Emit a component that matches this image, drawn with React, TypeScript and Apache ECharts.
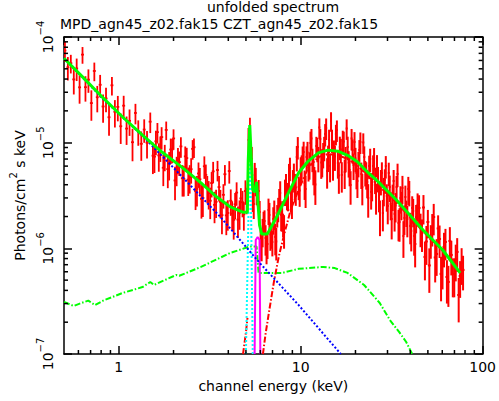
import React, { useEffect, useRef } from "react";
import * as echarts from "echarts";

// Flux values below are in units of 1e-6 photons/cm^2/s/keV
const FLUX_UNIT = 1e-6;
const X_MIN = 0.5;
const X_MAX = 100;
const Y_MIN = 1e-7;
const Y_MAX = 1e-4;

// ---- red data: MPD (low energy), two interleaved channel groups ----
const mpdEnergy = [0.506, 0.525, 0.545, 0.566, 0.587, 0.609, 0.632, 0.656, 0.681, 0.707, 0.734, 0.762, 0.79, 0.82, 0.851, 0.884, 0.917, 0.952, 0.988, 1.025, 1.064, 1.104, 1.146, 1.19, 1.235, 1.28, 1.33, 1.38, 1.43, 1.49, 1.54, 1.6, 1.66, 1.72, 1.79, 1.86, 1.93, 2.0, 2.08, 2.15, 2.24, 2.32, 2.41, 2.5, 2.59, 2.69, 2.79, 2.9, 3.01, 3.12, 3.24, 3.36, 3.49, 3.62, 3.76, 3.9, 4.05, 4.2, 4.36, 4.52, 4.69, 4.87, 5.05, 5.16, 5.26];
const mpdFlux = [74.5, 51.7, 56.5, 39.7, 50.4, 33.4, 68.1, 33.5, 39.5, 23.7, 47.7, 26.9, 35.3, 22.0, 26.2, 17.4, 34.9, 19.6, 21.8, 14.3, 22.4, 13.6, 16.1, 10.1, 19.1, 12.8, 9.76, 13.3, 9.98, 15.8, 7.53, 10.3, 7.58, 11.3, 7.45, 5.62, 8.61, 10.96, 5.61, 6.54, 4.61, 7.42, 4.47, 5.61, 9.05, 3.66, 4.5, 3.0, 4.96, 3.33, 4.15, 2.58, 5.51, 2.75, 3.21, 2.05, 5.39, 2.13, 2.61, 1.87, 2.97, 2.1, 2.92, 10.6, 13.8];
const mpdRelErr = [0.22, 0.25, 0.2, 0.28, 0.24, 0.3, 0.18, 0.27, 0.25, 0.32, 0.2, 0.28, 0.24, 0.3, 0.26, 0.33, 0.2, 0.29, 0.27, 0.32, 0.24, 0.3, 0.28, 0.34, 0.22, 0.27, 0.31, 0.25, 0.29, 0.22, 0.33, 0.26, 0.3, 0.24, 0.28, 0.34, 0.27, 0.22, 0.31, 0.26, 0.33, 0.24, 0.3, 0.27, 0.21, 0.32, 0.28, 0.34, 0.25, 0.3, 0.27, 0.33, 0.22, 0.3, 0.26, 0.35, 0.24, 0.31, 0.28, 0.33, 0.25, 0.3, 0.28, 0.3, 0.25];
const mpdBEnergy = [1.571, 1.631, 1.692, 1.757, 1.823, 1.892, 1.964, 2.038, 2.115, 2.195, 2.278, 2.364, 2.454, 2.547, 2.643, 2.743, 2.847, 2.954, 3.066, 3.182, 3.302, 3.427, 3.557, 3.691, 3.831, 3.976, 4.126, 4.282, 4.444, 4.612, 4.787, 4.968];
const mpdBFlux = [7.38, 12.58, 9.0, 5.79, 13.2, 6.27, 8.62, 4.39, 6.96, 9.22, 4.55, 7.15, 4.71, 8.74, 3.49, 5.11, 2.94, 5.98, 3.75, 2.82, 5.35, 2.76, 3.8, 2.06, 5.03, 2.16, 2.82, 1.86, 3.37, 2.17, 2.73, 3.49];
const mpdBRelErr = [0.3, 0.22, 0.27, 0.33, 0.2, 0.3, 0.26, 0.35, 0.28, 0.22, 0.32, 0.25, 0.3, 0.21, 0.34, 0.27, 0.35, 0.24, 0.29, 0.33, 0.23, 0.3, 0.27, 0.34, 0.22, 0.32, 0.28, 0.35, 0.25, 0.31, 0.28, 0.26];

// ---- red data: CZT (high energy), two interleaved channel groups ----
const cztEnergy = [5.385, 5.52, 5.66, 5.8, 5.95, 6.1, 6.25, 6.41, 6.57, 6.73, 6.9, 7.07, 7.25, 7.43, 7.62, 7.81, 8.0, 8.2, 8.41, 8.62, 8.84, 9.06, 9.28, 9.52, 9.75, 10.0, 10.25, 10.51, 10.77, 11.04, 11.32, 11.6, 11.89, 12.19, 12.5, 12.81, 13.13, 13.46, 13.8, 14.14, 14.5, 14.86, 15.23, 15.62, 16.01, 16.41, 16.82, 17.24, 17.67, 18.12, 18.57, 19.04, 19.52, 20.0, 20.5, 21.02, 21.54, 22.08, 22.64, 23.21, 23.79, 24.39, 25.0, 25.63, 26.27, 26.93, 27.6, 28.29, 29.0, 29.73, 30.48, 31.24, 32.02, 32.82, 33.65, 34.49, 35.35, 36.24, 37.15, 38.08, 39.03, 40.01, 41.01, 42.04, 43.09, 44.73, 46.42, 48.17, 49.99, 51.88, 53.84, 55.87, 57.99, 60.18, 62.46, 64.82, 67.27, 69.82, 72.46, 75.2, 78.05];
const cztFlux = [7.01, 2.63, 4.44, 3.34, 2.21, 1.077, 1.776, 1.254, 1.1, 2.07, 1.339, 1.897, 1.282, 2.07, 2.87, 2.07, 1.7, 3.49, 2.93, 4.84, 2.93, 4.44, 3.89, 7.32, 3.81, 5.64, 7.48, 4.16, 7.32, 5.64, 9.93, 7.01, 4.53, 9.31, 7.17, 10.84, 6.71, 9.01, 13.77, 7.32, 6.02, 10.61, 8.26, 12.09, 6.43, 9.11, 4.95, 10.26, 7.17, 9.11, 5.52, 10.96, 6.15, 7.09, 4.34, 8.53, 5.06, 10.04, 5.28, 4.25, 6.02, 3.42, 6.02, 4.53, 6.15, 3.13, 4.34, 2.16, 4.44, 3.13, 5.17, 2.63, 3.13, 2.12, 3.81, 1.74, 3.0, 3.73, 1.94, 2.21, 3.65, 1.63, 2.41, 1.31, 1.98, 2.41, 1.4, 0.829, 1.776, 1.227, 1.98, 0.885, 1.227, 0.681, 1.149, 0.481, 0.866, 0.573, 0.925, 0.548, 0.625];
const cztRelErr = [0.3, 0.28, 0.3, 0.25, 0.27, 0.3, 0.25, 0.32, 0.28, 0.3, 0.26, 0.29, 0.33, 0.24, 0.27, 0.3, 0.25, 0.28, 0.22, 0.3, 0.26, 0.24, 0.3, 0.27, 0.25, 0.29, 0.23, 0.31, 0.26, 0.24, 0.28, 0.25, 0.3, 0.22, 0.27, 0.24, 0.3, 0.26, 0.23, 0.28, 0.3, 0.25, 0.27, 0.22, 0.29, 0.25, 0.32, 0.24, 0.27, 0.25, 0.3, 0.23, 0.28, 0.26, 0.31, 0.24, 0.28, 0.22, 0.27, 0.3, 0.25, 0.32, 0.26, 0.28, 0.24, 0.3, 0.27, 0.33, 0.26, 0.29, 0.25, 0.3, 0.28, 0.32, 0.27, 0.33, 0.29, 0.3, 0.31, 0.28, 0.3, 0.33, 0.29, 0.35, 0.3, 0.32, 0.34, 0.4, 0.3, 0.35, 0.33, 0.38, 0.34, 0.4, 0.33, 0.42, 0.36, 0.4, 0.35, 0.38, 0.36];
const cztBEnergy = [5.452, 5.589, 5.73, 5.872, 6.024, 6.176, 6.328, 6.49, 6.652, 6.814, 6.986, 7.158, 7.34, 7.523, 7.715, 7.907, 8.1, 8.302, 8.515, 8.727, 8.95, 9.173, 9.396, 9.639, 9.871, 10.12, 10.38, 10.64, 10.9, 11.18, 11.46, 11.74, 12.04, 12.34, 12.66, 12.97, 13.29, 13.63, 13.97, 14.32, 14.68, 15.05, 15.42, 15.81, 16.21, 16.61, 17.03, 17.45, 17.89, 18.35, 18.8, 19.28, 19.76, 20.25, 20.76, 21.28, 21.81, 22.35, 22.92, 23.5, 24.09, 24.69, 25.31, 25.95, 26.6, 27.27, 27.94, 28.64, 29.36, 30.1, 30.86, 31.63, 32.42, 33.23, 34.07, 34.92, 35.79, 36.69, 37.61, 38.55, 39.52, 40.51, 41.52, 42.56, 43.9, 45.57, 47.29, 49.08, 50.93, 52.86, 54.85, 56.92, 59.08, 61.31, 63.63, 66.04, 68.55, 71.15, 73.85, 76.64];
const cztBFlux = [3.063, 4.95, 3.42, 3.49, 1.125, 1.461, 1.816, 1.054, 2.308, 1.354, 1.149, 2.162, 1.162, 2.385, 3.343, 2.115, 1.526, 3.979, 3.2, 5.763, 2.747, 4.95, 3.768, 9.11, 3.528, 5.954, 8.166, 3.647, 8.078, 6.288, 10.96, 5.64, 4.022, 8.813, 13.92, 6.494, 7.818, 12.09, 5.397, 10.61, 16.04, 6.15, 7.4, 13.19, 4.894, 8.623, 10.38, 5.28, 13.62, 6.494, 3.979, 8.53, 10.15, 5.17, 6.43, 10.15, 3.81, 7.32, 5.06, 3.0, 7.01, 3.979, 7.17, 3.063, 4.634, 2.07, 5.17, 3.568, 6.02, 2.518, 3.81, 1.897, 4.34, 2.546, 5.06, 1.776, 2.63, 1.31, 3.063, 1.897, 3.42, 1.461, 2.259, 1.1, 2.546, 1.576, 2.437, 1.162, 0.689, 1.576, 0.82, 1.543, 0.573, 1.031, 0.536, 1.175, 0.573, 0.785, 0.362, 0.727];
const cztBRelErr = [0.28, 0.3, 0.25, 0.27, 0.32, 0.3, 0.26, 0.33, 0.28, 0.3, 0.27, 0.31, 0.34, 0.26, 0.29, 0.32, 0.35, 0.27, 0.3, 0.25, 0.31, 0.28, 0.33, 0.24, 0.3, 0.27, 0.25, 0.34, 0.26, 0.29, 0.23, 0.3, 0.36, 0.26, 0.22, 0.3, 0.27, 0.24, 0.32, 0.25, 0.21, 0.29, 0.27, 0.23, 0.33, 0.26, 0.25, 0.31, 0.22, 0.28, 0.35, 0.26, 0.24, 0.3, 0.27, 0.23, 0.33, 0.26, 0.29, 0.35, 0.25, 0.3, 0.24, 0.32, 0.27, 0.37, 0.26, 0.3, 0.24, 0.33, 0.28, 0.36, 0.27, 0.31, 0.25, 0.35, 0.3, 0.38, 0.28, 0.33, 0.27, 0.36, 0.3, 0.4, 0.3, 0.35, 0.31, 0.4, 0.45, 0.34, 0.42, 0.33, 0.45, 0.36, 0.44, 0.35, 0.4, 0.38, 0.45, 0.38];

// ---- model: total (green solid) ----
const totalEnergy = [0.5, 0.64, 0.82, 1.05, 1.35, 1.72, 2.21, 2.83, 3.4, 4.1, 4.8, 5.09, 5.15, 5.25, 5.35, 5.45, 5.58, 5.72, 5.83, 5.94, 6.1, 6.56, 7.4, 8.6, 9.75, 11.0, 12.5, 14.1, 16.0, 18.1, 20.5, 23.2, 26.2, 33.6, 47.0, 60.2, 75.2];
const totalFlux = [63, 41, 26.5, 17.5, 11.8, 8.2, 5.9, 4.16, 3.13, 2.47, 2.2, 2.2, 6.9, 14.7, 6.9, 3.6, 3.4, 4.25, 2.6, 1.67, 1.37, 1.37, 2.0, 3.4, 5.2, 6.7, 8.0, 8.5, 8.3, 7.6, 6.6, 5.3, 4.4, 2.87, 1.49, 0.97, 0.585];

// ---- model: soft power law (blue dotted) ----
const powerlawEnergy = [0.5, 0.82, 1.35, 2.21, 3.62, 5.94, 9.75, 16.6];
const powerlawFlux = [63, 25.9, 11.6, 4.84, 1.98, 0.73, 0.29, 0.1];

// ---- model: reflection (green dash-dot) ----
const reflEnergy = [0.5, 0.565, 0.61, 0.68, 0.74, 0.82, 1.05, 1.35, 1.49, 1.56, 2.07, 2.15, 2.83, 4.1, 5.25, 5.72, 5.87, 7.9, 9.75, 13.3, 15.4, 18.1, 22.3, 27.2, 30.9, 34.9, 38.0, 41.0];
const reflFlux = [0.311, 0.285, 0.3, 0.32, 0.29, 0.32, 0.378, 0.43, 0.48, 0.45, 0.56, 0.55, 0.667, 0.905, 1.04, 1.04, 0.585, 0.585, 0.64, 0.667, 0.65, 0.585, 0.45, 0.304, 0.21, 0.16, 0.13, 0.1];

// ---- model: absorbed power law (red dash-dot) ----
const absEnergy = [6.2, 6.4, 6.72, 7.15, 7.61, 8.1, 8.8, 9.75, 11.0, 12.5, 14.1, 16.0, 18.1, 20.5, 23.2, 26.2, 33.6, 47.0, 60.2, 75.2];
const absFlux = [0.1, 0.152, 0.26, 0.5, 0.866, 1.34, 2.3, 3.6, 5.8, 7.3, 7.8, 7.65, 7.0, 6.1, 4.9, 4.07, 2.7, 1.45, 0.95, 0.58];
const absLowEnergy = [4.82, 5.0, 5.1];
const absLowFlux = [0.1, 0.16, 0.22];

// ---- model: Fe K alpha (cyan dotted) and Fe K beta (magenta) ----
const feKaEnergy = [5.0, 5.15, 5.25, 5.35, 5.45];
const feKaFlux = [0.1, 1.6, 14.7, 1.6, 0.1];
const feKbEnergy = [5.58, 5.66, 5.8, 5.94, 6.0];
const feKbFlux = [0.1, 1.2, 1.28, 1.2, 0.1];

// ---- ticks ----
const xMinorTicks = [0.6, 0.7, 0.8, 0.9, 2, 3, 4, 5, 6, 7, 8, 9, 20, 30, 40, 50, 60, 70, 80, 90];
const yMinorTicks = [2e-7, 3e-7, 4e-7, 5e-7, 6e-7, 7e-7, 8e-7, 9e-7, 2e-6, 3e-6, 4e-6, 5e-6, 6e-6, 7e-6, 8e-6, 9e-6, 2e-5, 3e-5, 4e-5, 5e-5, 6e-5, 7e-5, 8e-5, 9e-5];

const FONT = "DejaVu Sans";
const FS = 14;

function buildBars(E: number[], F: number[], R: number[]) {
  const n = Math.min(E.length, F.length, R.length);
  const out: number[][] = [];
  for (let i = 0; i < n; i++) {
    const f = F[i] * FLUX_UNIT;
    const lo = f * (1 - R[i]);
    const hi = f * (1 + R[i]);
    const xl = i > 0 ? Math.sqrt(E[i - 1] * E[i]) : E[i] * Math.sqrt(E[i] / E[i + 1]);
    const xr = i < n - 1 ? Math.sqrt(E[i] * E[i + 1]) : E[i] * Math.sqrt(E[i] / E[i - 1]);
    out.push([E[i], f, lo, hi, xl, xr]);
  }
  return out;
}

function pairs(E: number[], F: number[]) {
  const n = Math.min(E.length, F.length);
  const out: number[][] = [];
  for (let i = 0; i < n; i++) out.push([E[i], F[i] * FLUX_UNIT]);
  return out;
}

function isDecade(v: number) {
  const l = Math.log10(v);
  return Math.abs(l - Math.round(l)) < 1e-6;
}

export default function App() {
  const ref = useRef<HTMLDivElement>(null);
  useEffect(() => {
    const chart = echarts.init(ref.current!, null, { renderer: "svg" });
    const makeBarRender = (lw: number) => (_p: any, api: any) => {
      const x = api.value(0), f = api.value(1), lo = api.value(2), hi = api.value(3), xl = api.value(4), xr = api.value(5);
      const a = api.coord([x, lo]);
      const b = api.coord([x, hi]);
      const c = api.coord([xl, f]);
      const d = api.coord([xr, f]);
      const st = { stroke: "#ff0000", lineWidth: lw };
      return {
        type: "group",
        children: [
          { type: "line", shape: { x1: a[0], y1: a[1], x2: b[0], y2: b[1] }, style: st },
          { type: "line", shape: { x1: c[0], y1: c[1], x2: d[0], y2: d[1] }, style: st },
        ],
      };
    };
    const barSeries = (name: string, E: number[], F: number[], R: number[], lw: number) => ({
      type: "custom",
      name,
      data: buildBars(E, F, R),
      encode: { x: [0, 4, 5], y: [1, 2, 3] },
      renderItem: makeBarRender(lw),
      clip: true,
      z: 2,
      silent: true,
    });
    const axisCommon = {
      type: "log" as const,
      logBase: 10,
      axisLine: { show: true, onZero: false, lineStyle: { color: "#000", width: 1.5 } },
      axisTick: { show: true, inside: true, length: 8, lineStyle: { color: "#000", width: 1.5 } },
      splitLine: { show: false },
      minorTick: { show: false },
    };
    const labelRich = {
      b: { fontFamily: FONT, fontSize: FS, color: "#000", lineHeight: 20, verticalAlign: "bottom" as const },
      s: { fontFamily: FONT, fontSize: 10, color: "#000", lineHeight: 20, verticalAlign: "top" as const },
    };
    const option: any = {
      animation: false,
      backgroundColor: "#fff",
      grid: { left: 60, right: 12, top: 37, bottom: 47, containLabel: false },
      xAxis: [
        {
          ...axisCommon,
          position: "bottom",
          min: X_MIN,
          max: X_MAX,
          name: "channel energy (keV)",
          nameLocation: "middle",
          nameGap: 24,
          nameTextStyle: { fontFamily: FONT, fontSize: FS, color: "#000" },
          axisLabel: {
            show: true,
            margin: 6,
            fontFamily: FONT,
            fontSize: FS,
            color: "#000",
            showMinLabel: false,
            formatter: (v: number) => (isDecade(v) ? String(Math.round(v)) : ""),
          },
        },
        {
          ...axisCommon,
          position: "top",
          min: X_MIN,
          max: X_MAX,
          axisLabel: { show: false },
        },
      ],
      yAxis: [
        {
          ...axisCommon,
          position: "left",
          min: Y_MIN,
          max: Y_MAX,
          name: "{n|Photons/cm}{s|2}{n| s keV}",
          nameLocation: "middle",
          nameRotate: 90,
          nameGap: 37,
          nameTextStyle: {
            rich: {
              n: { fontFamily: FONT, fontSize: FS, color: "#000", lineHeight: 19, verticalAlign: "bottom" },
              s: { fontFamily: FONT, fontSize: 10, color: "#000", lineHeight: 19, verticalAlign: "top" },
            },
          },
          axisLabel: {
            show: true,
            rotate: 90,
            margin: 9,
            formatter: (v: number) => {
              if (!isDecade(v)) return "";
              const e = Math.round(Math.log10(v));
              return "{b|10}{s|" + (e < 0 ? "\u2212" + -e : String(e)) + "}";
            },
            rich: labelRich,
          },
        },
        {
          ...axisCommon,
          position: "right",
          min: Y_MIN,
          max: Y_MAX,
          axisLabel: { show: false },
        },
      ],
      graphic: [
        {
          type: "text",
          x: 273,
          y: 0,
          style: { text: "unfolded spectrum", fill: "#000", font: `${FS}px "${FONT}"`, textAlign: "center", textVerticalAlign: "top" },
        },
        {
          type: "text",
          x: 60,
          y: 17,
          style: { text: "MPD_agn45_z02.fak15 CZT_agn45_z02.fak15", fill: "#000", font: `${FS}px "${FONT}"`, textAlign: "left", textVerticalAlign: "top" },
        },
      ],
      series: [
        barSeries("MPD data", mpdEnergy, mpdFlux, mpdRelErr, 1.8),
        barSeries("MPD data b", mpdBEnergy, mpdBFlux, mpdBRelErr, 1.8),
        barSeries("CZT data", cztEnergy, cztFlux, cztRelErr, 2),
        barSeries("CZT data b", cztBEnergy, cztBFlux, cztBRelErr, 2),
        {
          type: "line",
          name: "reflection",
          data: pairs(reflEnergy, reflFlux),
          showSymbol: false,
          clip: true,
          lineStyle: { color: "#00ff00", width: 2, type: [6, 2, 1.5, 2] },
          z: 4,
        },
        {
          type: "line",
          name: "absorbed power law",
          data: pairs(absEnergy, absFlux),
          showSymbol: false,
          clip: true,
          lineStyle: { color: "#ff0000", width: 2, type: [6, 2, 1.5, 2] },
          z: 4,
        },
        {
          type: "line",
          name: "absorbed low",
          data: pairs(absLowEnergy, absLowFlux),
          showSymbol: false,
          clip: true,
          lineStyle: { color: "#ff0000", width: 2, type: [6, 2, 1.5, 2] },
          z: 4,
        },
        {
          type: "line",
          name: "Fe Ka",
          data: pairs(feKaEnergy, feKaFlux),
          showSymbol: false,
          clip: true,
          lineStyle: { color: "#00ffff", width: 2, type: [2, 2] },
          z: 5,
        },
        {
          type: "line",
          name: "Fe Kb",
          data: pairs(feKbEnergy, feKbFlux),
          showSymbol: false,
          clip: true,
          lineStyle: { color: "#ff00ff", width: 2 },
          z: 5,
        },
        {
          type: "line",
          name: "power law",
          data: pairs(powerlawEnergy, powerlawFlux),
          showSymbol: false,
          clip: true,
          lineStyle: { color: "#0000ff", width: 2, type: [2, 2] },
          z: 6,
        },
        {
          type: "line",
          name: "total",
          data: pairs(totalEnergy, totalFlux),
          showSymbol: false,
          clip: true,
          lineStyle: { color: "#00ff00", width: 3 },
          z: 7,
        },
        {
          type: "custom",
          name: "x minor ticks",
          data: xMinorTicks.map((v) => [v, 1e-6]),
          encode: { x: 0, y: 1 },
          silent: true,
          z: 8,
          renderItem: (_p: any, api: any) => {
            const v = api.value(0);
            const b = api.coord([v, Y_MIN]);
            const t = api.coord([v, Y_MAX]);
            const st = { stroke: "#000", lineWidth: 1.5 };
            return {
              type: "group",
              children: [
                { type: "line", shape: { x1: b[0], y1: b[1], x2: b[0], y2: b[1] - 4 }, style: st },
                { type: "line", shape: { x1: t[0], y1: t[1], x2: t[0], y2: t[1] + 4 }, style: st },
              ],
            };
          },
        },
        {
          type: "custom",
          name: "y minor ticks",
          data: yMinorTicks.map((v) => [1, v]),
          encode: { x: 0, y: 1 },
          silent: true,
          z: 8,
          renderItem: (_p: any, api: any) => {
            const v = api.value(1);
            const l = api.coord([X_MIN, v]);
            const r = api.coord([X_MAX, v]);
            const st = { stroke: "#000", lineWidth: 1.5 };
            return {
              type: "group",
              children: [
                { type: "line", shape: { x1: l[0], y1: l[1], x2: l[0] + 4, y2: l[1] }, style: st },
                { type: "line", shape: { x1: r[0], y1: r[1], x2: r[0] - 4, y2: r[1] }, style: st },
              ],
            };
          },
        },
      ],
    };
    chart.setOption(option);
    return () => chart.dispose();
  }, []);
  return (
    <div
      ref={ref}
      style={{ position: "fixed", left: 0, top: 0, width: 499, height: 401, background: "#fff" }}
    />
  );
}
